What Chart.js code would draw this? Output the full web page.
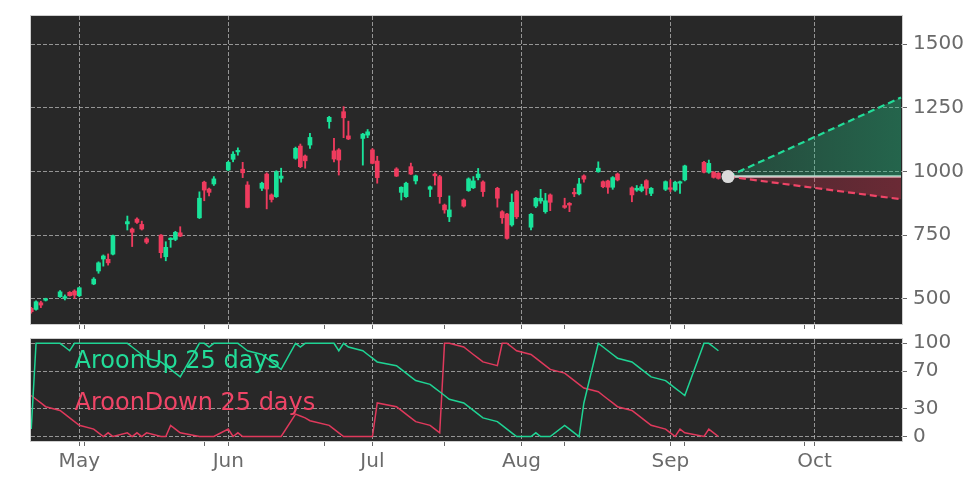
<!DOCTYPE html>
<html><head><meta charset="utf-8">
<script src="https://cdn.jsdelivr.net/npm/chart.js@4/dist/chart.umd.min.js"></script>
<style>
body{margin:0;background:#fff;}
#wrap{position:relative;width:972px;height:486px;overflow:hidden;background:#fff;}
canvas{position:absolute;left:0;}
</style></head>
<body><div id="wrap"><canvas id="top" width="972" height="340" style="top:0"></canvas><canvas id="bot" width="972" height="156" style="top:330px"></canvas></div>
<script>
// ---------------- DATA ----------------
const dates = [
'2020-04-21','2020-04-22','2020-04-23','2020-04-24',
'2020-04-27','2020-04-28','2020-04-29','2020-04-30','2020-05-01',
'2020-05-04','2020-05-05','2020-05-06','2020-05-07','2020-05-08',
'2020-05-11','2020-05-12','2020-05-13','2020-05-14','2020-05-15',
'2020-05-18','2020-05-19','2020-05-20','2020-05-21','2020-05-22',
'2020-05-26','2020-05-27','2020-05-28','2020-05-29',
'2020-06-01','2020-06-02','2020-06-03','2020-06-04','2020-06-05',
'2020-06-08','2020-06-09','2020-06-10','2020-06-11','2020-06-12',
'2020-06-15','2020-06-16','2020-06-17','2020-06-18',
'2020-06-22','2020-06-23','2020-06-24','2020-06-25','2020-06-26',
'2020-06-29','2020-06-30','2020-07-01','2020-07-02',
'2020-07-06','2020-07-07','2020-07-08','2020-07-09','2020-07-10',
'2020-07-13','2020-07-14','2020-07-15','2020-07-16','2020-07-17',
'2020-07-20','2020-07-21','2020-07-22','2020-07-23','2020-07-24',
'2020-07-27','2020-07-28','2020-07-29','2020-07-30','2020-07-31',
'2020-08-03','2020-08-04','2020-08-05','2020-08-06','2020-08-07',
'2020-08-10','2020-08-11','2020-08-12','2020-08-13','2020-08-14',
'2020-08-17','2020-08-18','2020-08-19','2020-08-20','2020-08-21',
'2020-08-24','2020-08-25','2020-08-26','2020-08-27','2020-08-28',
'2020-08-31','2020-09-01','2020-09-02','2020-09-03','2020-09-04',
'2020-09-08','2020-09-09','2020-09-10','2020-09-11'];

const opens = [462,458,484,494, 508,502,525,530,512, 558,609,656,655,675, 794,774,813,792,735,
 750,665,732,733,759, 818,958,931,951, 1006,1048,1077,1009,947, 934,990,908,901,973,
 1052,1100,1061,1104, 1196,1081,1085,1235,1140, 1130,1143,1085,1041, 1010,918,901,1019,963,
 930,990,980,868,822, 888,925,936,976,959, 934,842,833,790,921, 781,864,884,842,908,
 866,875,918,912,983, 999,960,963,938,990, 936,927,925,964,914, 930,936,927,954,967, 1036,997,997,993];
const highs = [466,492,490,502, 532,515,528,535,545, 583,645,672,676,750, 825,778,818,805,740,
 752,724,740,765,783, 920,962,935,980, 1040,1078,1093,1036,960, 958,995,912,1003,1013,
 1096,1108,1065,1150, 1217,1130,1090,1255,1198, 1150,1165,1090,1060, 1015,940,958,1033,986,
 943,995,985,872,904, 892,975,980,1012,963, 938,846,836,912,926, 835,898,930,914,912,
 895,878,934,973,987, 1038,963,966,980,994, 940,945,950,968,937, 963,967,962,962,1025, 1040,1045,1000,996];
const lows = [443,455,465,491, 505,495,510,500,508, 555,600,628,632,672, 770,705,796,770,716,
 660,649,702,728,744, 815,885,904,945, 1003,1038,1064,976,857, 925,853,880,898,958,
 1048,1015,1013,1091, 1170,1038,986,1133,1125, 1025,1133,1030,954, 980,888,898,988,951,
 901,947,875,836,803, 860,922,933,967,902, 860,796,734,785,815, 770,858,875,836,846,
 855,842,901,908,958, 997,936,914,930,963, 881,922,920,908,905, 925,921,922,914,963, 994,993,974,970];
const closes = [449,488,475,498, 527,508,512,514,543, 577,641,668,641,748, 803,761,800,774,722,
 681,702,737,761,746, 895,927,918,971, 1036,1068,1082,995,859, 954,931,890,999,982,
 1091,1019,1042,1134, 1213,1049,1045,1211,1128, 1147,1156,1032,976, 982,938,954,990,983,
 940,983,901,849,849, 864,971,963,990,921, 895,818,737,879,822, 832,895,895,885,879,
 859,868,912,951,970, 1013,940,938,976,967, 908,934,940,934,934, 960,930,958,959,1022, 997,1032,977,973];

const aroonUp = [8,100,100,100, 100,96,92,100,100, 100,100,100,100,100, 100,96,92,88,84,
 80,76,72,68,64, 100,100,96,100, 100,100,100,96,92, 88,84,80,76,72,
 100,96,100,100, 100,100,92,100,96, 92,88,84,80, 76,72,68,64,60,
 56,52,48,44,40, 36,32,28,24,20, 16,12,8,4,0, 0,4,0,0,0,
 12,8,4,0,36, 100,96,92,88,84, 80,76,72,68,64, 60,56,52,48,44, 100,100,96,92];
const aroonDown = [44,40,36,32, 28,24,20,16,12, 8,4,0,4,0, 4,0,4,0,4,
 0,0,12,8,4, 0,0,0,0, 8,0,4,0,0, 0,0,0,0,0,
 24,22,20,17, 12,8,4,0,0, 0,0,0,36, 32,28,24,20,16,
 12,8,4,100,100, 96,92,88,84,80, 76,100,100,96,92, 88,84,80,76,72,
 68,64,60,56,52, 48,44,40,36,32, 28,24,20,16,12, 8,4,0,8,4, 0,8,4,0];
const aroonLabels = ['AroonUp 25 days', 'AroonDown 25 days'];

const monthTickDates = ['2020-05-01','2020-06-01','2020-07-01','2020-08-01','2020-09-01','2020-10-01'];
const monthTickLabels = ['May','Jun','Jul','Aug','Sep','Oct'];
const minorTickDates = ['2020-05-02','2020-05-27','2020-06-21','2020-07-16','2020-08-10','2020-09-04','2020-09-29'];
const priceTicks = [500, 750, 1000, 1250, 1500];
const aroonTicks = [0, 30, 70, 100];

const forecastDates = ['2020-09-13', '2020-10-19'];
const forecastBase = [980, 980];
const forecastHigh = [980, 1291];
const forecastLow = [980, 891];

// ---------------- STYLE ----------------
const FONT = 'DejaVu Sans';
const PANEL_BG = '#282828';
const GRID = 'rgba(185,185,185,0.75)';
const TICK_MARK = '#666';
const LABEL = '#6a6a6a';
const UP = '#19e39a';
const DOWN = '#ef3b5e';
const UP_LINE = '#1fd494';
const DOWN_LINE = '#e0395c';
const XMIN = -10.05, XMAX = 171.2;

const day = s => (Date.parse(s) - Date.parse('2020-05-01')) / 86400000;
const majorDays = monthTickDates.map(day);
const minorDays = minorTickDates.map(day);
const tickDays = majorDays.concat(minorDays).sort((a, b) => a - b);
const isMajor = v => majorDays.indexOf(v) >= 0;

const panelPlugin = {
  id: 'panel',
  beforeDraw(chart) {
    const {ctx, chartArea: a} = chart;
    ctx.save(); ctx.fillStyle = PANEL_BG;
    ctx.fillRect(a.left, a.top, a.right - a.left, a.bottom - a.top);
    ctx.restore();
  },
  afterDraw(chart) {
    const {ctx, chartArea: a} = chart;
    ctx.save(); ctx.strokeStyle = '#cfcfcf'; ctx.lineWidth = 1;
    ctx.strokeRect(a.left - 0.5, a.top - 0.5, a.right - a.left + 1, a.bottom - a.top + 1);
    ctx.restore();
  }
};

function zeroPad(s) { s.paddingTop = 0; s.paddingBottom = 0; s.paddingLeft = 0; s.paddingRight = 0; }

function xScale(showLabels, height) {
  return {
    type: 'linear', min: XMIN, max: XMAX, offset: false,
    afterBuildTicks(s) { s.ticks = tickDays.map(v => ({value: v})); },
    afterFit(s) { s.height = height; zeroPad(s); },
    grid: {
      offset: false,
      color: c => (c.tick && isMajor(c.tick.value)) ? GRID : 'rgba(0,0,0,0)',
      tickColor: TICK_MARK, tickLength: 5, tickBorderDash: [], lineWidth: 1, drawTicks: true
    },
    border: {display: false, dash: [4, 2]},
    ticks: {
      display: showLabels, autoSkip: false, maxRotation: 0, minRotation: 0,
      color: LABEL, font: {family: FONT, size: 20}, padding: 4,
      callback: v => { const i = majorDays.indexOf(v); return i >= 0 ? monthTickLabels[i] : ''; }
    }
  };
}
function yScale(min, max, ticks) {
  return {
    position: 'right', min, max,
    afterBuildTicks(s) { s.ticks = ticks.map(v => ({value: v})); },
    afterFit(s) { s.width = 70; zeroPad(s); },
    grid: {color: GRID, tickColor: TICK_MARK, tickLength: 5, tickBorderDash: [], lineWidth: 1},
    border: {display: false, dash: [4, 2]},
    ticks: {color: LABEL, font: {family: FONT, size: 20}, padding: 6, callback: v => String(v)}
  };
}

function grad(chart, rgb, a0, a1) {
  const {ctx, chartArea} = chart;
  if (!chartArea) return `rgba(${rgb},${a1})`;
  const x0 = chart.scales.x.getPixelForValue(day(forecastDates[0]));
  const g = ctx.createLinearGradient(x0, 0, chartArea.right, 0);
  g.addColorStop(0, `rgba(${rgb},${a0})`);
  g.addColorStop(1, `rgba(${rgb},${a1})`);
  return g;
}

const candleColor = c => closes[c.dataIndex] >= opens[c.dataIndex] ? UP : DOWN;
const fx = forecastDates.map(day);

new Chart(document.getElementById('top'), {
  type: 'bar',
  data: {
    datasets: [
      {type: 'scatter', label: 'Last close', order: 0,
       data: [{x: fx[0], y: forecastBase[0]}], pointRadius: 6.5, pointHoverRadius: 6.5,
       backgroundColor: '#dadada', borderColor: '#dadada', borderWidth: 0},
      {type: 'line', label: 'Base', order: 3,
       data: fx.map((x, i) => ({x, y: forecastBase[i]})),
       borderColor: '#e4e4e4', borderWidth: 2.5, pointRadius: 0, fill: false},
      {type: 'line', label: 'Upper', order: 2,
       data: fx.map((x, i) => ({x, y: forecastHigh[i]})),
       borderColor: '#22dc98', borderWidth: 2.2, borderDash: [7, 4], pointRadius: 0,
       fill: {target: 1}, backgroundColor: c => grad(c.chart, '30,200,135', 0.2, 0.38)},
      {type: 'line', label: 'Lower', order: 2,
       data: fx.map((x, i) => ({x, y: forecastLow[i]})),
       borderColor: '#ee4466', borderWidth: 2.2, borderDash: [7, 4], pointRadius: 0,
       fill: {target: 1}, backgroundColor: c => grad(c.chart, '215,45,75', 0.2, 0.38)},
      {label: 'High-Low', order: 5, grouped: false,
       data: dates.map((d, i) => ({x: day(d), y: [lows[i], highs[i]]})),
       backgroundColor: candleColor, barThickness: 1.2, borderWidth: 0},
      {label: 'Open-Close', order: 4, grouped: false,
       data: dates.map((d, i) => ({x: day(d), y: [opens[i], closes[i]]})),
       backgroundColor: candleColor, barThickness: 4, minBarLength: 1.5, borderWidth: 0}
    ]
  },
  options: {
    responsive: false, animation: false, devicePixelRatio: 1,
    layout: {padding: {left: 31, top: 16, right: 0, bottom: 0}, autoPadding: false},
    plugins: {legend: {display: false}, tooltip: {enabled: false}},
    scales: {x: xScale(false, 16), y: yScale(400.6, 1611.2, priceTicks)}
  },
  plugins: [panelPlugin]
});

const legendPlugin = {
  id: 'aroonLegend',
  afterDatasetsDraw(chart) {
    const {ctx} = chart;
    ctx.save();
    ctx.font = `24px "${FONT}"`;
    ctx.textBaseline = 'alphabetic'; ctx.textAlign = 'left';
    const ys = [38, 80];
    chart.data.datasets.forEach((ds, i) => {
      ctx.fillStyle = ds.textColor;
      ctx.fillText(ds.label, 74.5, ys[i]);
    });
    ctx.restore();
  }
};

new Chart(document.getElementById('bot'), {
  type: 'line',
  data: {
    datasets: [
      {label: aroonLabels[0], data: dates.map((d, i) => ({x: day(d), y: aroonUp[i]})),
       borderColor: UP_LINE, textColor: '#22dc98', borderWidth: 1.5, pointRadius: 0, tension: 0},
      {label: aroonLabels[1], data: dates.map((d, i) => ({x: day(d), y: aroonDown[i]})),
       borderColor: DOWN_LINE, textColor: '#ee4466', borderWidth: 1.5, pointRadius: 0, tension: 0}
    ]
  },
  options: {
    responsive: false, animation: false, devicePixelRatio: 1,
    layout: {padding: {left: 31, top: 9, right: 0, bottom: 0}, autoPadding: false},
    plugins: {legend: {display: false}, tooltip: {enabled: false}},
    scales: {x: xScale(true, 45), y: yScale(-4.8, 104.6, aroonTicks)}
  },
  plugins: [panelPlugin, legendPlugin]
});
</script></body></html>
